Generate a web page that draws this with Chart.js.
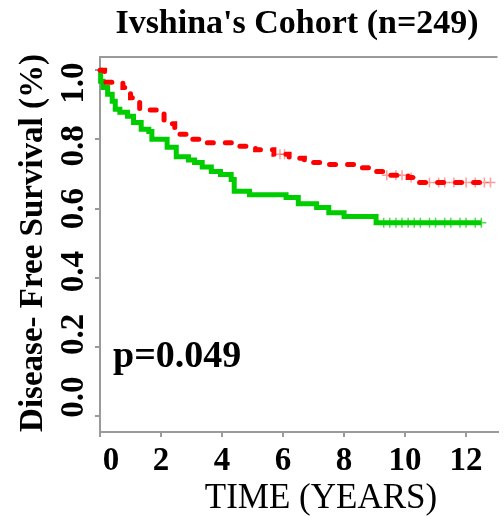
<!DOCTYPE html>
<html>
<head>
<meta charset="utf-8">
<script src="https://cdn.jsdelivr.net/npm/chart.js@4.4.1/dist/chart.umd.min.js"></script>
<style>
  html, body { margin: 0; padding: 0; background: #fff; }
  #wrap { width: 504px; height: 516px; }
</style>
</head>
<body>
<div id="wrap"><canvas id="kmChart" width="504" height="516"></canvas></div>
<script>
// labels
const titleText = "Ivshina's Cohort (n=249)";
const xTitle = 'TIME (YEARS)';
const yTitle = 'Disease- Free Survival (%)';
const pValueText = 'p=0.049';

const xTicks = [0, 2, 4, 6, 8, 10, 12];
const xTickLabels = ['0', '2', '4', '6', '8', '10', '12'];
const yTicks = [0, 0.2, 0.4, 0.6, 0.8, 1.0];
const yTickLabels = ['0.0', '0.2', '0.4', '0.6', '0.8', '1.0'];

// red dashed curve (upper group), step points
const redTime = [0, 0.15, 0.75, 1.0, 1.3, 1.9, 2.1, 2.45, 2.9, 3.4, 4.5, 5.1, 5.7, 6.2, 6.7, 7.3, 8.4, 9.0, 9.5, 10.1, 10.45, 12.8];
const redSurv = [1.0, 0.965, 0.95, 0.92, 0.885, 0.875, 0.845, 0.815, 0.8, 0.79, 0.78, 0.77, 0.757, 0.745, 0.733, 0.727, 0.718, 0.707, 0.696, 0.69, 0.675, 0.675];

// green solid curve (lower group)
const greenTime = [0, 0.02, 0.1, 0.25, 0.4, 0.5, 0.65, 0.9, 1.1, 1.35, 1.6, 1.7, 2.2, 2.5, 2.9, 3.1, 3.35, 3.65, 3.95, 4.3, 4.4, 4.9, 6.1, 6.5, 7.1, 7.5, 8.0, 9.05, 12.5];
const greenSurv = [1.0, 0.968, 0.95, 0.93, 0.91, 0.887, 0.878, 0.867, 0.849, 0.829, 0.823, 0.8, 0.777, 0.75, 0.74, 0.733, 0.72, 0.707, 0.698, 0.684, 0.65, 0.64, 0.632, 0.614, 0.603, 0.588, 0.577, 0.559, 0.559];

// censor marks
const redCensorTime = [5.9, 6.05, 9.4, 9.7, 9.9, 10.2, 10.8, 11.1, 11.3, 11.6, 12.0, 12.3, 12.6, 12.8];
const redCensorSurv = [0.757, 0.757, 0.696, 0.696, 0.696, 0.69, 0.675, 0.675, 0.675, 0.675, 0.675, 0.675, 0.675, 0.675];
const greenCensorTime = [9.3, 9.5, 9.7, 9.9, 10.1, 10.3, 10.5, 10.8, 11.0, 11.3, 11.5, 11.8, 12.0, 12.3, 12.5];
const greenCensorSurv = [0.559, 0.559, 0.559, 0.559, 0.559, 0.559, 0.559, 0.559, 0.559, 0.559, 0.559, 0.559, 0.559, 0.559, 0.559];

const RED = '#ff0000';
const GREEN = '#00cd00';
const AXIS = '#9a9a9a';
const SERIF = "'Liberation Serif', 'Times New Roman', serif";

const toPoints = (xs, ys) => xs.map((x, i) => ({ x: x, y: ys[i] }));

// all the text is placed by hand, R style
const textPlugin = {
  id: 'kmText',
  afterDraw(chart) {
    const ctx = chart.ctx;
    const area = chart.chartArea;
    const xs = chart.scales.x;
    const ys = chart.scales.y;
    ctx.save();

    // top edge of the box
    ctx.strokeStyle = AXIS;
    ctx.lineWidth = 2;
    ctx.beginPath();
    ctx.moveTo(area.left, area.top);
    ctx.lineTo(area.right, area.top);
    ctx.stroke();

    ctx.fillStyle = '#000';
    ctx.textBaseline = 'alphabetic';

    ctx.font = 'bold 34px ' + SERIF;
    ctx.textAlign = 'center';
    ctx.fillText(titleText, 297, 33);

    // y tick labels, rotated
    ctx.font = 'bold 33px ' + SERIF;
    yTicks.forEach((v, i) => {
      const p = ys.getPixelForValue(v);
      ctx.save();
      ctx.translate(83, 19.5 + 0.9075 * p);
      ctx.rotate(-Math.PI / 2);
      ctx.fillText(yTickLabels[i], 0, 0);
      ctx.restore();
    });

    ctx.save();
    ctx.translate(42, 243);
    ctx.rotate(-Math.PI / 2);
    ctx.fillText(yTitle, 0, 0);
    ctx.restore();

    xTicks.forEach((v, i) => {
      const p = Math.max(xs.getPixelForValue(v), 111);
      ctx.fillText(xTickLabels[i], p, 470);
    });

    ctx.font = '35px ' + SERIF;
    ctx.fillText(xTitle, 321, 508);

    ctx.font = 'bold 38px ' + SERIF;
    ctx.textAlign = 'left';
    ctx.fillText(pValueText, 113, 367);

    ctx.restore();
  }
};

const axisGrid = {
  drawOnChartArea: false,
  drawTicks: true,
  tickLength: 5,
  color: AXIS,
  lineWidth: 2
};

new Chart(document.getElementById('kmChart'), {
  type: 'line',
  data: {
    datasets: [
      {
        label: 'red',
        data: toPoints(redTime, redSurv),
        stepped: true,
        borderColor: RED,
        borderWidth: 5,
        borderDash: [6, 12],
        borderCapStyle: 'round',
        pointRadius: 0,
        fill: false,
        clip: false
      },
      {
        label: 'green',
        data: toPoints(greenTime, greenSurv),
        stepped: true,
        borderColor: GREEN,
        borderWidth: 5,
        pointRadius: 0,
        fill: false,
        clip: false
      },
      {
        label: 'red censored',
        data: toPoints(redCensorTime, redCensorSurv),
        showLine: false,
        pointStyle: 'cross',
        pointRadius: 5,
        borderWidth: 1.5,
        borderColor: 'rgba(255,60,60,0.5)',
        clip: false
      },
      {
        label: 'green censored',
        data: toPoints(greenCensorTime, greenCensorSurv),
        showLine: false,
        pointStyle: 'cross',
        pointRadius: 5,
        borderWidth: 1.5,
        borderColor: 'rgba(0,205,0,0.7)',
        clip: false
      }
    ]
  },
  options: {
    responsive: false,
    animation: false,
    layout: { padding: { top: 57, left: 0, right: 0, bottom: 0 } },
    plugins: {
      legend: { display: false },
      tooltip: { enabled: false },
      title: { display: false }
    },
    scales: {
      x: {
        type: 'linear',
        min: 0,
        max: 13.03,
        afterBuildTicks: (scale) => { scale.ticks = xTicks.map(v => ({ value: v })); },
        afterFit: (scale) => { scale.height = 84; },
        ticks: { display: false },
        grid: axisGrid,
        border: { display: true, color: AXIS, width: 2 }
      },
      y: {
        type: 'linear',
        min: -0.046,
        max: 1.038,
        afterBuildTicks: (scale) => { scale.ticks = yTicks.map(v => ({ value: v })); },
        afterFit: (scale) => { scale.width = 100; },
        ticks: { display: false },
        grid: axisGrid,
        border: { display: true, color: AXIS, width: 2 }
      }
    }
  },
  plugins: [textPlugin]
});
</script>
</body>
</html>
